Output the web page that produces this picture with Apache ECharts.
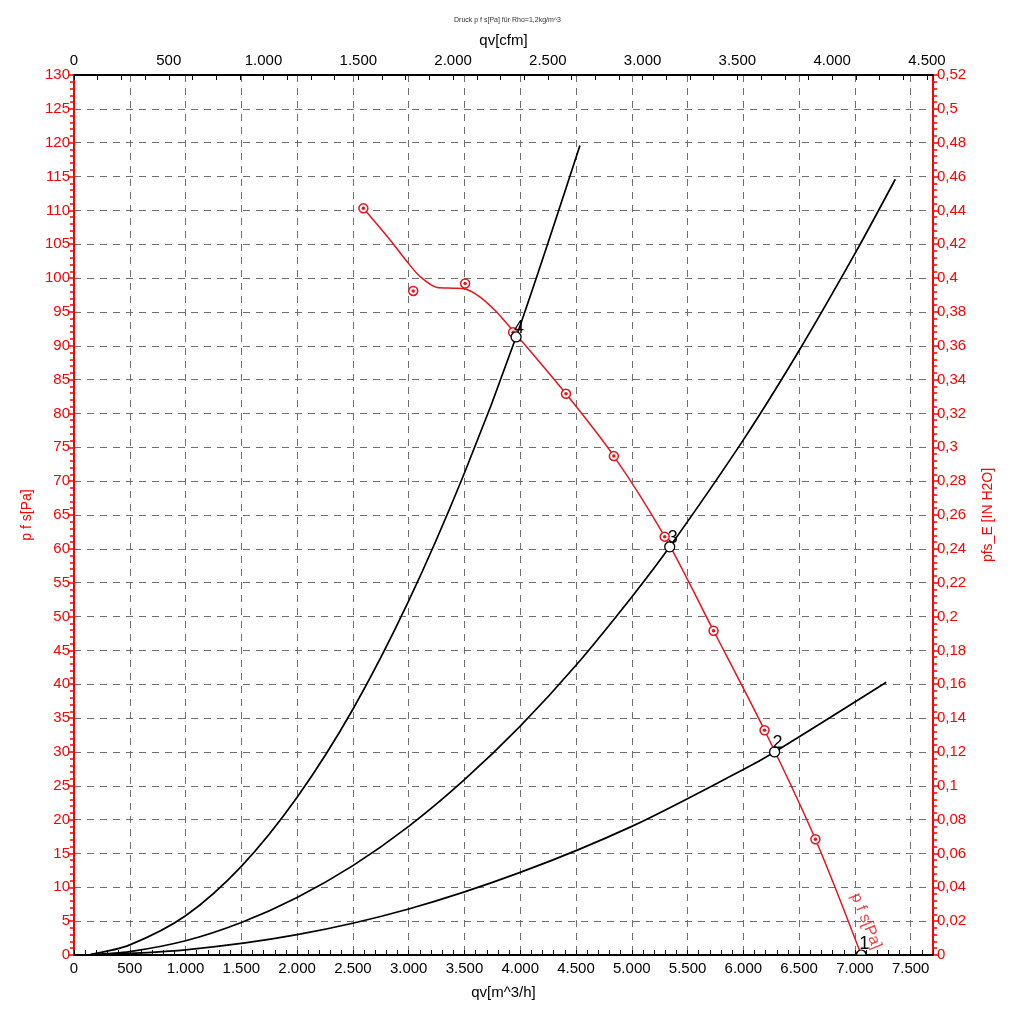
<!DOCTYPE html>
<html>
<head>
<meta charset="utf-8">
<script src="https://cdn.jsdelivr.net/npm/echarts@6/dist/echarts.min.js"></script>
<style>html,body{margin:0;padding:0;background:#fff}#c{width:1015px;height:1024px}</style>
</head>
<body>
<div id="c"></div>
<script>
// ---- data ----
var xTitle = 'qv[m^3/h]';
var x2Title = 'qv[cfm]';
var yTitle = 'p f s[Pa]';
var y2Title = 'pfs_E [IN H2O]';
var chartTitle = 'Druck p f s[Pa] für Rho=1,2kg/m^3';

// fan curve (red line)
var fanQ = [2594, 2835, 2987, 3104, 3256, 3399, 3507, 3640, 3788, 3936, 4410, 4839, 5295, 5733, 6190, 6646, 7057];
var fanP = [110.3, 105.6, 102.4, 100.2, 98.6, 98.5, 98.4, 97.2, 95.0, 92.2, 82.9, 73.7, 61.8, 47.9, 33.2, 17.1, 0];
// measured points (red markers)
var measQ = [2594, 3041, 3506, 3936, 4410, 4839, 5295, 5733, 6190, 6646];
var measP = [110.3, 98.1, 99.2, 92.0, 82.9, 73.7, 61.8, 47.9, 33.2, 17.1];
// system curves (black)
var sysAQ = [150, 500, 1000, 1500, 2000, 2500, 3000, 3500, 3963, 4535];
var sysAP = [0.1, 1.5, 5.8, 13.1, 23.3, 36.3, 52.3, 71.2, 91.3, 119.6];
var sysBQ = [150, 500, 1000, 1500, 2000, 2500, 3000, 3500, 4000, 4500, 5000, 5340, 6000, 6500, 7000, 7362];
var sysBP = [0.05, 0.5, 2.1, 4.8, 8.5, 13.2, 19.0, 25.9, 33.8, 42.8, 52.9, 60.3, 76.1, 89.3, 103.6, 114.6];
var sysCQ = [150, 1000, 2000, 3000, 4000, 5000, 6000, 6280, 7281];
var sysCP = [0.02, 0.76, 3.0, 6.8, 12.2, 19.0, 27.4, 30.0, 40.3];
// operating points
var opQ = [7057, 6280, 5340, 3963];
var opP = [0, 30.0, 60.3, 91.3];
var opLabel = ['1', '2', '3', '4'];
// curve label position
var curveLabelQ = [7100];
var curveLabelP = [5.0];
var curveLabelText = ['p f s[Pa]'];

// axes ranges
var qMax = 7700, qStep = 500;
var cfmFactor = 1.699;
var cfmStep = 500;
var pMax = 130, pStep = 5;
var inMax = 0.52, inStep = 0.02;

// ---- helpers ----
function pairs(xs, ys) { return xs.map(function (x, i) { return [x, ys[i]]; }); }
function thou(v) { return String(Math.round(v)).replace(/\B(?=(\d{3})+(?!\d))/g, '.'); }
var RED = '#ff0000';
var CURVE_RED = '#e8141c';
var FONT = 'Liberation Sans';
var HALF_CIRCLE = 'path://M0,10 A10,10 0 0 1 20,10 Z';

var chart = echarts.init(document.getElementById('c'), null, {renderer: 'canvas'});
var option = {
  backgroundColor: '#fff',
  animation: false,
  title: {
    text: chartTitle, left: 'center', top: 12,
    textStyle: {fontSize: 7, fontWeight: 'normal', color: '#333', fontFamily: FONT}
  },
  grid: {left: 74, right: 82, top: 75, bottom: 69},
  xAxis: [{
    type: 'value', position: 'bottom', min: 0, max: qMax, interval: qStep,
    name: xTitle, nameLocation: 'middle', nameGap: 30,
    nameTextStyle: {color: '#000', fontSize: 15, fontFamily: FONT},
    axisLine: {onZero: false, lineStyle: {color: '#000', width: 2}},
    axisTick: {inside: true, length: 5, lineStyle: {color: '#000', width: 1}},
    minorTick: {show: true, splitNumber: 5, length: 5, lineStyle: {color: '#000', width: 1}},
    axisLabel: {color: '#000', fontSize: 15, fontFamily: FONT, margin: 6,
      formatter: function (v) { return v % qStep === 0 ? thou(v) : ''; }},
    splitLine: {show: true, lineStyle: {color: '#707070', type: [7, 6], width: 1}}
  }, {
    type: 'value', position: 'top', min: 0, max: qMax / cfmFactor, interval: cfmStep,
    name: x2Title, nameLocation: 'middle', nameGap: 25,
    nameTextStyle: {color: '#000', fontSize: 15, fontFamily: FONT},
    axisLine: {onZero: false, lineStyle: {color: '#000', width: 2}},
    axisTick: {inside: true, length: 5, lineStyle: {color: '#000', width: 1}},
    minorTick: {show: true, splitNumber: 4, length: 5, lineStyle: {color: '#000', width: 1}},
    axisLabel: {color: '#000', fontSize: 15, fontFamily: FONT, margin: 7,
      formatter: function (v) { return Math.abs(v % cfmStep) < 1e-6 ? thou(v) : ''; }},
    splitLine: {show: false}
  }],
  yAxis: [{
    type: 'value', position: 'left', min: 0, max: pMax, interval: pStep,
    name: yTitle, nameLocation: 'middle', nameGap: 37, nameRotate: 90,
    nameTextStyle: {color: RED, fontSize: 14, fontFamily: FONT},
    axisLine: {onZero: false, lineStyle: {color: RED, width: 2}},
    axisTick: {length: 5, lineStyle: {color: RED, width: 1.5}},
    minorTick: {show: true, splitNumber: 5, length: 4, lineStyle: {color: RED, width: 1.5}},
    axisLabel: {color: RED, fontSize: 15, fontFamily: FONT, margin: 4},
    splitLine: {show: true, lineStyle: {color: '#707070', type: [7, 6], width: 1}}
  }, {
    type: 'value', position: 'right', min: 0, max: inMax, interval: inStep,
    name: y2Title, nameLocation: 'middle', nameGap: 48, nameRotate: 90,
    nameTextStyle: {color: RED, fontSize: 14, fontFamily: FONT},
    axisLine: {onZero: false, lineStyle: {color: RED, width: 2}},
    axisTick: {length: 5, lineStyle: {color: RED, width: 1.5}},
    minorTick: {show: true, splitNumber: 5, length: 4, lineStyle: {color: RED, width: 1.5}},
    axisLabel: {color: RED, fontSize: 15, fontFamily: FONT, margin: 4,
      formatter: function (v) { return String(parseFloat(v.toFixed(2))).replace('.', ','); }},
    splitLine: {show: false}
  }],
  series: [
    {type: 'line', data: pairs(sysAQ, sysAP), smooth: 0.3, showSymbol: false,
      lineStyle: {color: '#000', width: 1.7}, z: 3},
    {type: 'line', data: pairs(sysBQ, sysBP), smooth: 0.3, showSymbol: false,
      lineStyle: {color: '#000', width: 1.7}, z: 3},
    {type: 'line', data: pairs(sysCQ, sysCP), smooth: 0.3, showSymbol: false,
      lineStyle: {color: '#000', width: 1.7}, z: 3},
    {type: 'line', data: pairs(fanQ, fanP), smooth: 0.3, showSymbol: false,
      lineStyle: {color: CURVE_RED, width: 1.5}, z: 4},
    {type: 'scatter', data: pairs(measQ, measP), symbol: 'circle', symbolSize: 9,
      itemStyle: {color: '#fff', borderColor: CURVE_RED, borderWidth: 1.5, opacity: 1}, z: 5},
    {type: 'scatter', data: pairs(measQ, measP), symbol: 'circle', symbolSize: 3.5,
      itemStyle: {color: CURVE_RED, opacity: 1}, z: 6},
    {type: 'scatter', data: opQ.map(function (q, i) {
        var item = {value: [q, opP[i]], label: {formatter: opLabel[i]}};
        if (opP[i] === 0) {
          // sits on the bottom edge: only the upper half is visible
          item.symbol = HALF_CIRCLE;
          item.symbolSize = [10, 5];
          item.symbolOffset = [0, -2.5];
          item.label.offset = [3, 3];
        }
        return item;
      }),
      symbol: 'circle', symbolSize: 10,
      itemStyle: {color: '#fff', borderColor: '#000', borderWidth: 1.3, opacity: 1},
      label: {show: true, position: 'top', distance: 0, offset: [3, 6], color: '#000',
        fontSize: 18, fontFamily: FONT}, z: 7},
    {type: 'scatter', data: curveLabelQ.map(function (q, i) {
        return {value: [q, curveLabelP[i]], label: {formatter: curveLabelText[i]}};
      }),
      symbol: 'circle', symbolSize: 1, itemStyle: {color: 'rgba(0,0,0,0)'},
      label: {show: true, position: 'inside', rotate: -68, color: CURVE_RED,
        fontSize: 16, fontFamily: FONT}, z: 7}
  ]
};
chart.setOption(option);
</script>
</body>
</html>
